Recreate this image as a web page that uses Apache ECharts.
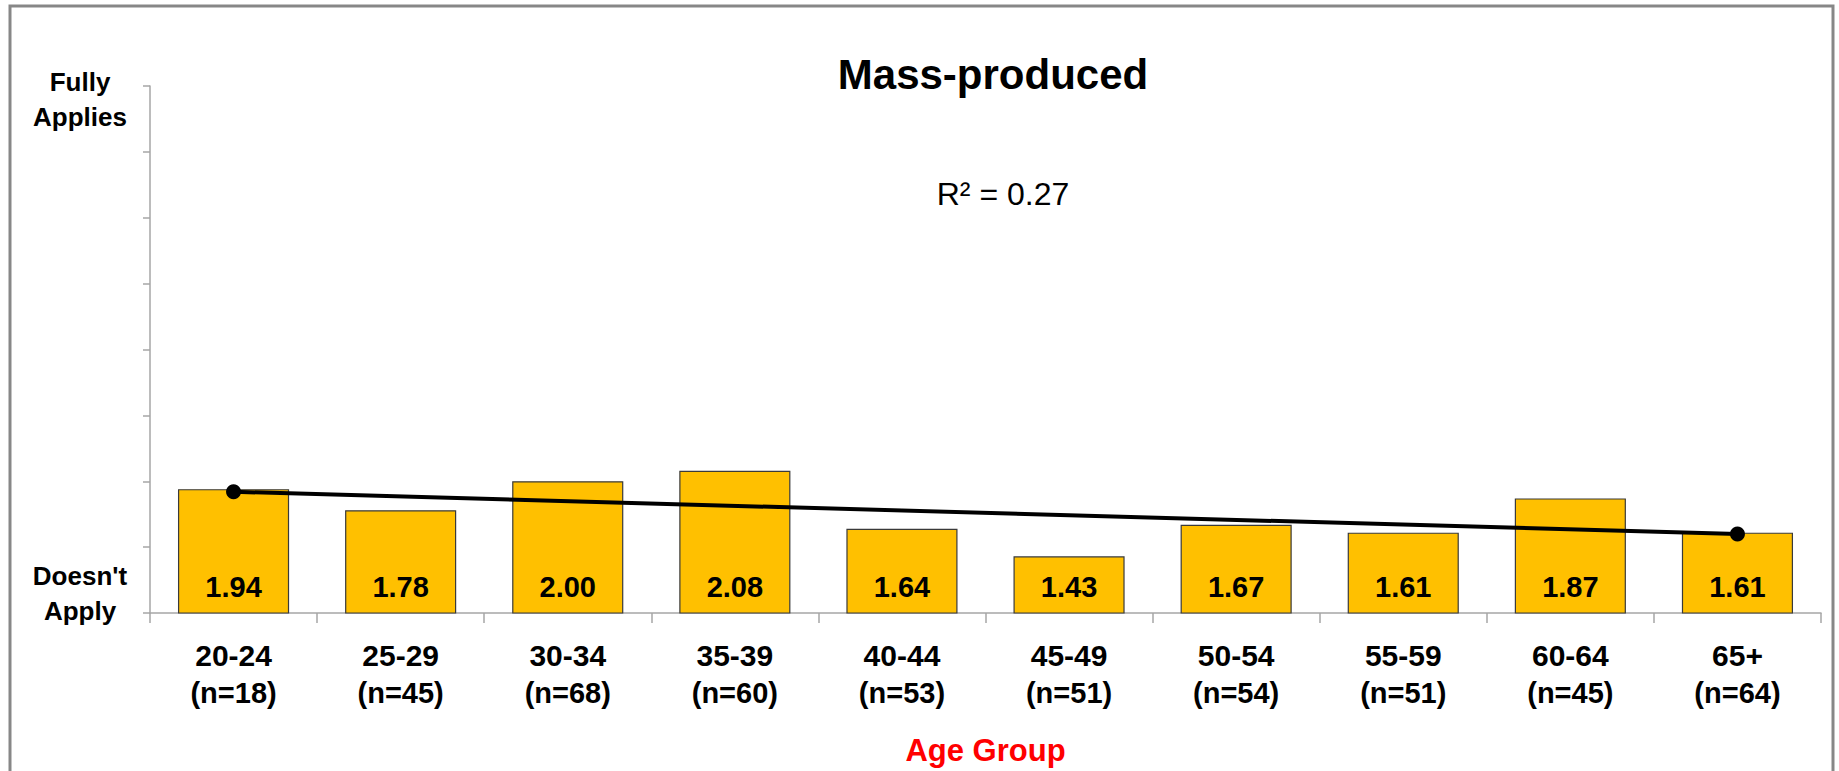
<!DOCTYPE html>
<html><head><meta charset="utf-8">
<script src="https://cdn.jsdelivr.net/npm/echarts@6/dist/echarts.min.js"></script>
<style>html,body{margin:0;padding:0;background:#fff}#c{width:1839px;height:771px}</style>
</head><body><div id="c"></div>
<script>
const categories = ['20-24','25-29','30-34','35-39','40-44','45-49','50-54','55-59','60-64','65+'];
const sampleSizes = ['n=18','n=45','n=68','n=60','n=53','n=51','n=54','n=51','n=45','n=64'];
const meanScores = [1.94,1.78,2.00,2.08,1.64,1.43,1.67,1.61,1.87,1.61];
const trendValues = [1.92,null,null,null,null,null,null,null,null,1.60];
const yEndLabels = ["Doesn't\nApply", 'Fully\nApplies'];
const yEndLabelValues = [1.145, 4.9];
const titleText = 'Mass-produced';
const r2Text = 'R² = 0.27';
const xAxisName = 'Age Group';

const FONT = '"Liberation Sans", Arial, sans-serif';
const chart = echarts.init(document.getElementById('c'), null, {renderer:'svg'});
chart.setOption({
  animation:false,
  backgroundColor:'#fff',
  textStyle:{fontFamily:FONT},
  title:[
    {text:titleText, left:988, top:48, textAlign:'center',
     textStyle:{fontFamily:FONT, fontSize:42, fontWeight:'bold', color:'#000'}},
    {text:r2Text, left:998, top:173, textAlign:'center',
     textStyle:{fontFamily:FONT, fontSize:32, fontWeight:'normal', color:'#000'}}
  ],
  graphic:[{type:'rect', silent:true, shape:{x:10,y:6,width:1823,height:800},
    style:{fill:'none', stroke:'#878787', lineWidth:3}}],
  grid:{left:150, right:18, top:86, bottom:157, containLabel:false},
  xAxis:{
    type:'category', data:categories,
    name:xAxisName, nameLocation:'middle', nameGap:122,
    nameTextStyle:{fontFamily:FONT, fontSize:31, fontWeight:'bold', color:'#ff0000'},
    axisLine:{lineStyle:{color:'#a6a6a6', width:1.5}},
    axisTick:{show:true, alignWithLabel:false, length:10, lineStyle:{color:'#a6a6a6', width:1.5}},
    axisLabel:{interval:0, hideOverlap:false, margin:23, fontFamily:FONT, fontSize:30, fontWeight:'bold', color:'#000', lineHeight:38,
      rich:{n:{fontFamily:FONT, fontSize:29, fontWeight:'bold', color:'#000', lineHeight:38}},
      formatter:(v,i)=> v + '\n{n|(' + sampleSizes[i] + ')}'}
  },
  yAxis:{
    type:'value', min:1, max:5, interval:0.5,
    splitLine:{show:false},
    axisLine:{show:true, lineStyle:{color:'#a6a6a6', width:1.5}},
    axisTick:{show:true, length:7, lineStyle:{color:'#a6a6a6', width:1.5}},
    axisLabel:{margin:70, align:'center', verticalAlign:'middle', color:'#000', fontFamily:FONT, fontSize:26, fontWeight:'bold',
      lineHeight:35, customValues:yEndLabelValues,
      formatter:(v)=> v < 3 ? yEndLabels[0] : yEndLabels[1]
    }
  },
  series:[
    {type:'bar', data:meanScores, barWidth:'66.5%',
     itemStyle:{color:'#FFC000', borderColor:'#3a3a3a', borderWidth:1.2},
     label:{show:true, position:'insideBottom', distance:12, fontFamily:FONT, fontSize:29, fontWeight:'bold', color:'#000',
       formatter:(p)=>p.value.toFixed(2)}},
    {type:'line', data:trendValues, connectNulls:true, symbol:'circle', symbolSize:15,
     lineStyle:{color:'#000', width:4}, itemStyle:{color:'#000'}, z:5}
  ]
});
</script></body></html>
